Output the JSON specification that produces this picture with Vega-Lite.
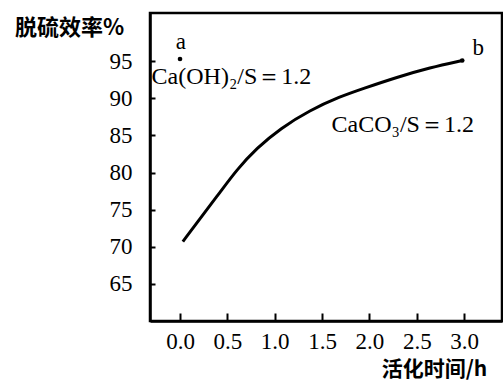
{
  "$schema": "https://vega.github.io/schema/vega-lite/v6.json",
  "width": 352,
  "height": 308,
  "autosize": {"type": "none"},
  "padding": {"left": 150, "top": 13, "right": 1, "bottom": 61},
  "background": "white",
  "config": {
    "view": {"stroke": "black", "strokeWidth": 2.5},
    "axis": {
      "domainColor": "black", "domainWidth": 2.5, "tickColor": "black", "tickWidth": 2,
      "labelFont": "Liberation Serif", "labelFontSize": 23, "labelColor": "black",
      "titleFont": "Noto Sans CJK SC", "titleFontWeight": "bold", "titleColor": "black", "grid": false
    }
  },
  "datasets": {
    "curve": [
      {"t": 0.03, "eff": 70.7},
      {"t": 0.25, "eff": 74.45},
      {"t": 0.42, "eff": 77.3},
      {"t": 0.6, "eff": 80.4},
      {"t": 0.81, "eff": 83.3},
      {"t": 1.06, "eff": 85.95},
      {"t": 1.37, "eff": 88.4},
      {"t": 1.69, "eff": 90.25},
      {"t": 1.94, "eff": 91.35},
      {"t": 2.29, "eff": 92.85},
      {"t": 2.64, "eff": 94.15},
      {"t": 2.98, "eff": 95.1}
    ],
    "points": [
      {"t": 0.0, "eff": 95.3, "name": "a"},
      {"t": 2.98, "eff": 95.1, "name": "b"}
    ],
    "labels": [
      {"t": 0.01, "eff": 97.6, "text": "a", "anchor": "center"},
      {"t": 3.15, "eff": 96.8, "text": "b", "anchor": "center"},
      {"t": -0.3, "eff": 92.85, "text": "Ca(OH)₂/S＝1.2", "anchor": "left"},
      {"t": 1.6, "eff": 86.4, "text": "CaCO₃/S＝1.2", "anchor": "left"}
    ]
  },
  "layer": [
    {
      "data": {"name": "curve"},
      "mark": {"type": "line", "color": "black", "strokeWidth": 3, "interpolate": "basis"},
      "encoding": {
        "x": {"field": "t", "type": "quantitative",
          "scale": {"domain": [-0.317, 3.4], "nice": false, "zero": false},
          "axis": {"values": [0, 0.5, 1, 1.5, 2, 2.5, 3], "format": ".1f", "tickSize": -8, "labelPadding": 17,
            "title": "活化时间/h", "titleFontSize": 21, "titleAngle": 0, "titleX": 284, "titleY": 48,
            "titleAlign": "center", "titleBaseline": "middle", "labelFlush": false}},
        "y": {"field": "eff", "type": "quantitative",
          "scale": {"domain": [60, 101.5], "nice": false, "zero": false},
          "axis": {"values": [65, 70, 75, 80, 85, 90, 95], "tickSize": -5, "labelPadding": 23,
            "title": "脱硫效率%", "titleFontSize": 22, "titleAngle": 0, "titleX": -81, "titleY": 14,
            "titleAlign": "center", "titleBaseline": "middle"}}
      }
    },
    {
      "data": {"name": "points"},
      "mark": {"type": "circle", "color": "black", "opacity": 1, "size": 22},
      "encoding": {
        "x": {"field": "t", "type": "quantitative"},
        "y": {"field": "eff", "type": "quantitative"}
      }
    },
    {
      "data": {"name": "labels"},
      "transform": [{"filter": "datum.anchor == 'center'"}],
      "mark": {"type": "text", "font": "Liberation Serif", "fontSize": 23, "color": "black", "align": "center", "baseline": "middle"},
      "encoding": {
        "x": {"field": "t", "type": "quantitative"},
        "y": {"field": "eff", "type": "quantitative"},
        "text": {"field": "text"}
      }
    },
    {
      "data": {"name": "labels"},
      "transform": [{"filter": "datum.anchor == 'left'"}],
      "mark": {"type": "text", "font": "Liberation Serif", "fontSize": 24, "color": "black", "align": "left", "baseline": "middle"},
      "encoding": {
        "x": {"field": "t", "type": "quantitative"},
        "y": {"field": "eff", "type": "quantitative"},
        "text": {"field": "text"}
      }
    }
  ]
}
